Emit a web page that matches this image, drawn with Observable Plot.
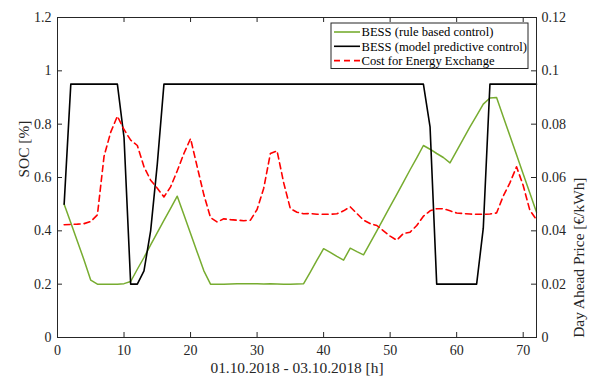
<!DOCTYPE html>
<html><head><meta charset="utf-8">
<script src="https://cdn.jsdelivr.net/npm/d3@7"></script>
<script src="https://cdn.jsdelivr.net/npm/@observablehq/plot@0.6"></script>
<style>
body{margin:0;background:#fff}
#chart svg{font-family:"Liberation Serif","Times New Roman",serif;display:block}
</style>
</head><body><div id="chart"></div>
<script>
// hours of the simulation horizon
const hours = [1,2,3,4,5,6,7,8,9,10,11,12,13,14,15,16,17,18,19,20,21,22,23,24,25,26,27,28,29,30,31,32,33,34,35,36,
  37,38,39,40,41,42,43,44,45,46,47,48,49,50,51,52,53,54,55,56,57,58,59,60,61,62,63,64,65,66,67,68,69,70,71,72];
// SOC, rule based control
const socRule = [0.50,0.43,0.36,0.29,0.215,0.20,0.20,0.20,0.20,0.202,0.21,0.256,0.30,0.347,0.393,0.439,0.484,0.53,
  0.46,0.39,0.32,0.25,0.20,0.20,0.20,0.201,0.202,0.202,0.202,0.202,0.201,0.202,0.201,0.20,0.20,0.201,
  0.202,0.245,0.29,0.333,0.319,0.304,0.29,0.335,0.322,0.31,0.355,0.40,0.446,0.492,0.537,0.583,0.629,0.674,
  0.72,0.706,0.69,0.675,0.655,0.70,0.745,0.79,0.832,0.875,0.898,0.90,0.828,0.757,0.685,0.613,0.542,0.47];
// SOC, model predictive control
const socMpc = [0.50,0.95,0.95,0.95,0.95,0.95,0.95,0.95,0.95,0.75,0.20,0.20,0.25,0.40,0.65,0.95,0.95,0.95,
  0.95,0.95,0.95,0.95,0.95,0.95,0.95,0.95,0.95,0.95,0.95,0.95,0.95,0.95,0.95,0.95,0.95,0.95,
  0.95,0.95,0.95,0.95,0.95,0.95,0.95,0.95,0.95,0.95,0.95,0.95,0.95,0.95,0.95,0.95,0.95,0.95,
  0.95,0.79,0.20,0.20,0.20,0.20,0.20,0.20,0.20,0.41,0.95,0.95,0.95,0.95,0.95,0.95,0.95,0.95];
// Day-ahead price [€/kWh]
const price = [0.0423,0.0424,0.0425,0.0427,0.0435,0.046,0.068,0.077,0.083,0.078,0.074,0.072,0.064,0.059,0.056,0.0527,0.0565,0.0625,
  0.069,0.0746,0.064,0.0535,0.045,0.0433,0.0445,0.0442,0.044,0.0438,0.044,0.048,0.056,0.069,0.070,0.058,0.0483,0.047,
  0.0464,0.0465,0.0462,0.0462,0.0462,0.0464,0.0475,0.049,0.0465,0.044,0.0427,0.042,0.040,0.038,0.0365,0.039,0.0395,0.042,
  0.0455,0.0475,0.0483,0.0483,0.0475,0.0467,0.0465,0.0463,0.0462,0.0462,0.0463,0.0467,0.053,0.058,0.064,0.057,0.0477,0.0442];

const xTicks = [0,10,20,30,40,50,60,70];
const yTicks = [0,0.2,0.4,0.6,0.8,1,1.2];          // SOC axis
const priceTicks = [0,0.02,0.04,0.06,0.08,0.1,0.12]; // price axis
const seriesNames = ["BESS (rule based control)","BESS (model predictive control)","Cost for Energy Exchange"];
const seriesColors = ["#77AC30","#000000","#FF0000"];
const xTitle = "01.10.2018 - 03.10.2018 [h]";
const yTitle = "SOC [%]";
const y2Title = "Day Ahead Price [€/kWh]";

const W = 594, H = 376, mL = 57, mR = 58, mT = 17, mB = 39;
const fw = W - mL - mR, fh = H - mT - mB, tk = 5;
const ratio = 1.2 / 0.12; // price → SOC scale
const axisCol = "#262626";

const rows = hours.map((h, i) => ({h, rule: socRule[i], mpc: socMpc[i], price: price[i]}));

const plot = Plot.plot({
  width: W, height: H,
  marginLeft: mL, marginRight: mR, marginTop: mT, marginBottom: mB,
  style: {fontFamily: '"Liberation Serif","Times New Roman",serif', fontSize: "14px", color: axisCol, background: "#fff", overflow: "visible"},
  x: {domain: [0, 72]},
  y: {domain: [0, 1.2]},
  marks: [
    Plot.line(rows, {x: "h", y: "rule", stroke: seriesColors[0], strokeWidth: 1.5}),
    Plot.line(rows, {x: "h", y: "mpc", stroke: seriesColors[1], strokeWidth: 1.6}),
    Plot.line(rows, {x: "h", y: d => d.price * ratio, stroke: seriesColors[2], strokeWidth: 1.6, strokeDasharray: "6,4"}),
    Plot.frame({stroke: axisCol, strokeWidth: 1}),
    // inward ticks
    Plot.tickX(xTicks, {x: d => d, insetTop: fh - tk, stroke: axisCol}),
    Plot.tickX(xTicks, {x: d => d, insetBottom: fh - tk, stroke: axisCol}),
    Plot.tickY(yTicks, {y: d => d, insetRight: fw - tk, stroke: axisCol}),
    Plot.tickY(priceTicks, {y: d => d * ratio, insetLeft: fw - tk, stroke: axisCol}),
    // tick labels
    Plot.axisX({ticks: xTicks, tickSize: 0, tickPadding: 8, label: null, tickFormat: d => String(d)}),
    Plot.axisY({ticks: yTicks, tickSize: 0, tickPadding: 6, label: null, anchor: "left", tickFormat: d => String(+d.toFixed(2))}),
    Plot.axisY(priceTicks.map(d => d * ratio), {tickSize: 0, tickPadding: 5, label: null, anchor: "right", tickFormat: d => String(+(d / ratio).toFixed(3))}),
    // axis titles
    Plot.text([xTitle], {frameAnchor: "bottom", dy: 31, fontSize: 15.4, fill: axisCol, lineAnchor: "middle"}),
    Plot.text([yTitle], {frameAnchor: "left", dx: -33, rotate: -90, fontSize: 15.4, fill: axisCol, lineAnchor: "middle"}),
    Plot.text([y2Title], {frameAnchor: "right", dx: 43, rotate: -90, fontSize: 15.4, fill: axisCol, lineAnchor: "middle"})
  ]
});
document.getElementById("chart").appendChild(plot);

// legend inside the axes (top right)
const svg = d3.select(plot);
const lg = svg.append("g").attr("font-size", 12.6).attr("text-anchor", "start")
  .attr("font-family", '"Liberation Serif","Times New Roman",serif');
const bx = 331, by = 23, bw = 197, bh = 45.5;
lg.append("rect").attr("x", bx).attr("y", by).attr("width", bw).attr("height", bh)
  .attr("fill", "#fff").attr("stroke", axisCol).attr("stroke-width", 1);
seriesNames.forEach((name, i) => {
  const cy = by + 9 + i * 14.3;
  lg.append("line").attr("x1", bx + 3).attr("x2", bx + 29).attr("y1", cy).attr("y2", cy)
    .attr("stroke", seriesColors[i]).attr("stroke-width", 1.6)
    .attr("stroke-dasharray", i === 2 ? "6,4" : null);
  lg.append("text").attr("x", bx + 30.5).attr("y", cy).attr("dy", "0.35em")
    .attr("text-anchor", "start").attr("fill", "#000").text(name);
});
</script>
</body></html>
